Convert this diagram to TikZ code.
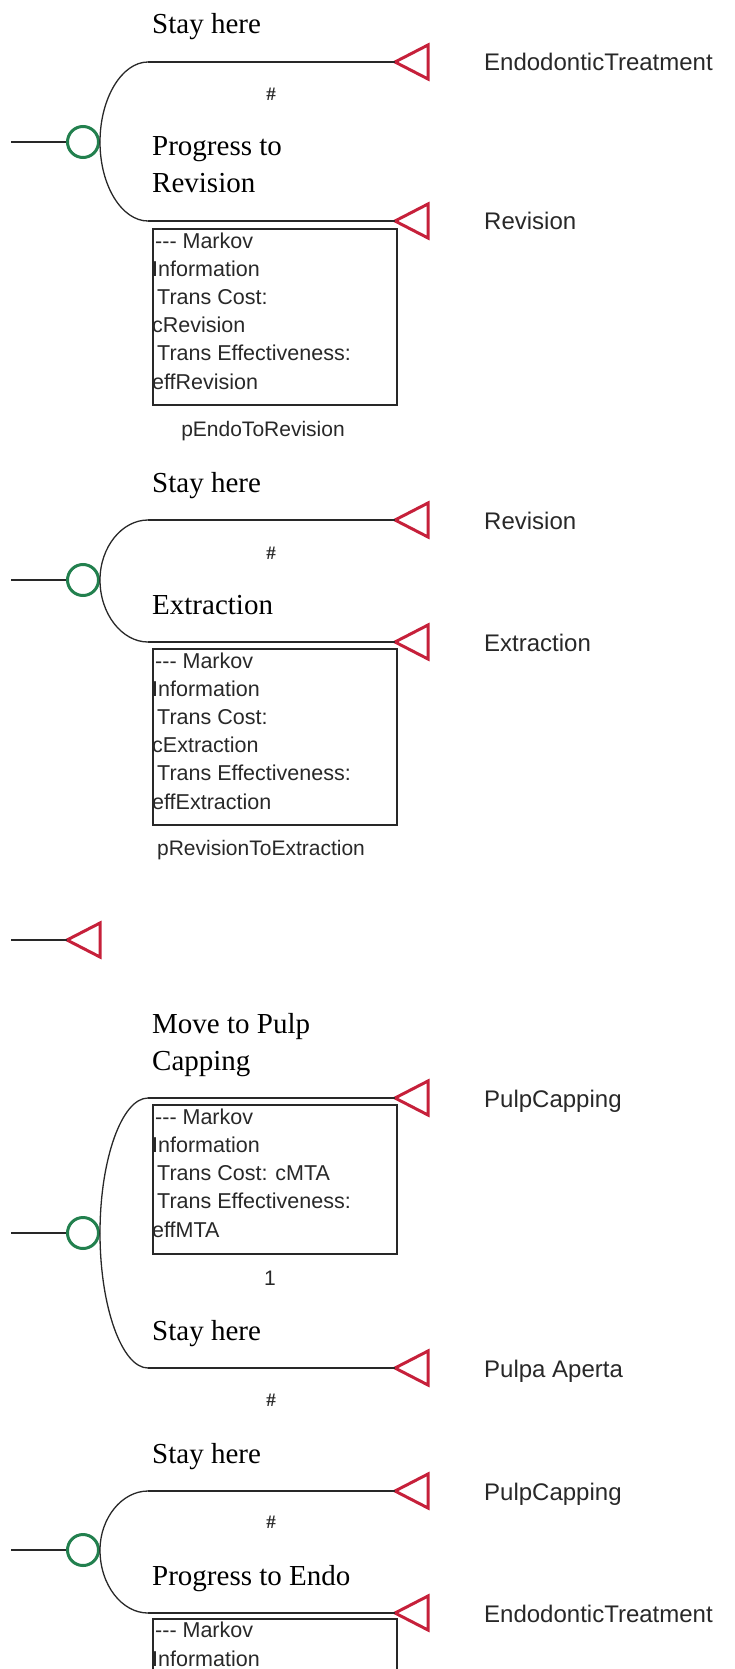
\documentclass[tikz,border=0pt]{standalone}
\usepackage{fontspec}
\setmainfont{Liberation Serif}
\setsansfont{Liberation Sans}
\definecolor{chancegreen}{RGB}{34,128,78}
\definecolor{termred}{RGB}{198,32,58}
\definecolor{ink}{RGB}{40,40,40}

% terminal node: a left-pointing triangle whose tip is the named coordinate
\newcommand{\termtri}[3]{%
  \coordinate (#1) at (#2,#3);
  \draw[termline] (#1) -- ++(33,-17) -- ++(0,34) -- cycle;}
% three separate hyphens (no dash ligature)
\newcommand{\trihyph}{-{}-{}-}

% multi-line labels are anchored at the baseline of their LAST line
\tikzset{
  branch/.style={draw=ink, line width=1.9pt},
  curveline/.style={draw=ink, line width=1.3pt},
  chance/.style={circle, draw=chancegreen, line width=3pt, minimum size=31pt, inner sep=0pt},
  termline/.style={draw=termred, line width=3pt, line join=miter},
  statelbl/.style={font=\fontsize{29}{37}\selectfont, text=black, anchor=base west, inner sep=0pt, align=left},
  endlbl/.style={font=\sffamily\fontsize{24}{28}\selectfont, text=ink, anchor=base west, inner sep=0pt},
  infobox/.style={draw=ink, line width=1.6pt, anchor=north west, minimum width=244pt, inner sep=0pt},
  infotext/.style={font=\sffamily\fontsize{21.5}{28.2}\selectfont, text=ink, anchor=base west, inner sep=0pt, align=left},
  problbl/.style={font=\sffamily\fontsize{21}{24}\selectfont, text=ink, inner sep=0pt},
  hashlbl/.style={font=\bfseries\fontsize{19}{20}\selectfont, text=ink, inner sep=0pt},
}

\begin{document}
\begin{tikzpicture}[x=1pt, y=-1pt]
\useasboundingbox (0,0) rectangle (735,1669);
\clip (0,0) rectangle (735,1669);

% ---------- Endodontic treatment state ----------
\coordinate (s1) at (11,142);
\node[chance] (c1) at (83,142) {};
\draw[branch] (s1) -- (c1);
\termtri{t1a}{395}{62}
\termtri{t1b}{395}{221}
\coordinate (k1a) at (148,62);
\coordinate (k1b) at (148,221);
\draw[curveline] (c1.east) .. controls (100,98) and (122,62) .. (k1a);
\draw[curveline] (c1.east) .. controls (100,186) and (122,221) .. (k1b);
\draw[branch] (k1a) -- (t1a);
\draw[branch] (k1b) -- (t1b);
\node[statelbl] (l1a) at (152,34) {Stay here};
\node[hashlbl] (h1a) at (271,94) {\#};
\node[statelbl] (l1b) at (152,193) {Progress to\\Revision};
\node[endlbl] (e1a) at (484,71) {EndodonticTreatment};
\node[endlbl] (e1b) at (484,230) {Revision};
\node[infobox, minimum height=176pt] (b1) at (152,228) {};
\node[infotext] (i1) at (152,389) {\hspace*{3pt}\trihyph{} Markov\\Information\\\hspace*{5pt}Trans Cost:\\cRevision\\\hspace*{5pt}Trans Effectiveness:\\effRevision};
\node[problbl] (p1) at (263,431) {pEndoToRevision};

% ---------- Revision state ----------
\coordinate (s2) at (11,580);
\node[chance] (c2) at (83,580) {};
\draw[branch] (s2) -- (c2);
\termtri{t2a}{395}{520}
\termtri{t2b}{395}{642}
\coordinate (k2a) at (148,520);
\coordinate (k2b) at (148,642);
\draw[curveline] (c2.east) .. controls (100,547) and (122,520) .. (k2a);
\draw[curveline] (c2.east) .. controls (100,614) and (122,642) .. (k2b);
\draw[branch] (k2a) -- (t2a);
\draw[branch] (k2b) -- (t2b);
\node[statelbl] (l2a) at (152,492) {Stay here};
\node[hashlbl] (h2a) at (271,553) {\#};
\node[statelbl] (l2b) at (152,614) {Extraction};
\node[endlbl] (e2a) at (484,529) {Revision};
\node[endlbl] (e2b) at (484,651) {Extraction};
\node[infobox, minimum height=176pt] (b2) at (152,648) {};
\node[infotext] (i2) at (152,809) {\hspace*{3pt}\trihyph{} Markov\\Information\\\hspace*{5pt}Trans Cost:\\cExtraction\\\hspace*{5pt}Trans Effectiveness:\\effExtraction};
\node[problbl] (p2) at (261,850) {pRevisionToExtraction};

% ---------- Extraction state (absorbing) ----------
\coordinate (s3) at (11,940);
\termtri{t3}{67}{940}
\draw[branch] (s3) -- (t3);

% ---------- Pulpa aperta state ----------
\coordinate (s4) at (11,1233);
\node[chance] (c4) at (83,1233) {};
\draw[branch] (s4) -- (c4);
\termtri{t4a}{395}{1098}
\termtri{t4b}{395}{1368}
\coordinate (k4a) at (148,1098);
\coordinate (k4b) at (148,1368);
\draw[curveline] (c4.east) .. controls (100,1159) and (122,1098) .. (k4a);
\draw[curveline] (c4.east) .. controls (100,1307) and (122,1368) .. (k4b);
\draw[branch] (k4a) -- (t4a);
\draw[branch] (k4b) -- (t4b);
\node[statelbl] (l4a) at (152,1070) {Move to Pulp\\Capping};
\node[endlbl] (e4a) at (484,1107) {PulpCapping};
\node[infobox, minimum height=149pt] (b4) at (152,1104) {};
\node[infotext] (i4) at (152,1237) {\hspace*{3pt}\trihyph{} Markov\\Information\\\hspace*{5pt}Trans Cost: cMTA\\\hspace*{5pt}Trans Effectiveness:\\effMTA};
\node[problbl] (p4) at (270,1278) {1};
\node[statelbl] (l4b) at (152,1340) {Stay here};
\node[endlbl] (e4b) at (484,1377) {Pulpa Aperta};
\node[hashlbl] (h4b) at (271,1400) {\#};

% ---------- Pulp capping state ----------
\coordinate (s5) at (11,1550);
\node[chance] (c5) at (83,1550) {};
\draw[branch] (s5) -- (c5);
\termtri{t5a}{395}{1491}
\termtri{t5b}{395}{1613}
\coordinate (k5a) at (148,1491);
\coordinate (k5b) at (148,1613);
\draw[curveline] (c5.east) .. controls (100,1518) and (122,1491) .. (k5a);
\draw[curveline] (c5.east) .. controls (100,1585) and (122,1613) .. (k5b);
\draw[branch] (k5a) -- (t5a);
\draw[branch] (k5b) -- (t5b);
\node[statelbl] (l5a) at (152,1463) {Stay here};
\node[hashlbl] (h5a) at (271,1522) {\#};
\node[statelbl] (l5b) at (152,1585) {Progress to Endo};
\node[endlbl] (e5a) at (484,1500) {PulpCapping};
\node[endlbl] (e5b) at (484,1622) {EndodonticTreatment};
\node[infobox, minimum height=120pt] (b5) at (152,1618) {};
\node[infotext] (i5) at (152,1666) {\hspace*{3pt}\trihyph{} Markov\\Information};
\end{tikzpicture}
\end{document}
